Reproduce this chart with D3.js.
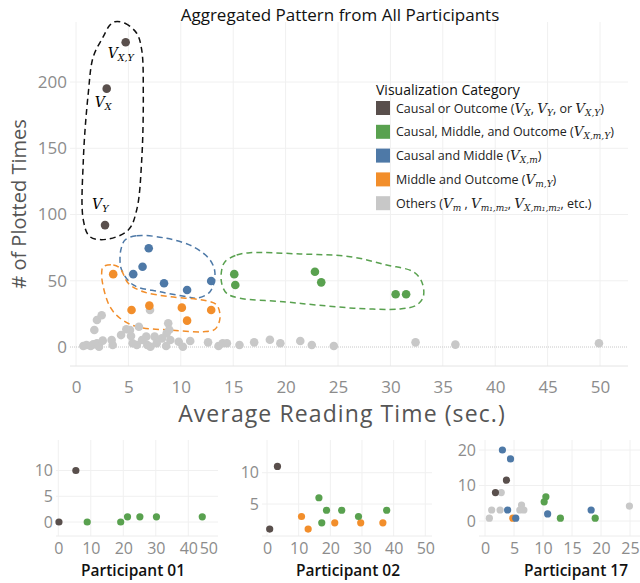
<!DOCTYPE html>
<html lang="en">
<head>
    <title>Aggregated Pattern</title>
    <script src="https://d3js.org/d3.v7.min.js"></script>
    <style>
        body { margin: 0; background: #fff; }
        text { font-family: "Open Sans", sans-serif; }
    </style>
</head>
<body>

<script>
    // ---- data ----
    const categories = ["Causal or Outcome", "Causal, Middle, and Outcome", "Causal and Middle",
                        "Middle and Outcome", "Others"];
    const legendLabels = ["Causal or Outcome ({X}, {Y}, or {X,Y})",
                          "Causal, Middle, and Outcome ({X,m,Y})",
                          "Causal and Middle ({X,m})",
                          "Middle and Outcome ({m,Y})",
                          "Others ({m} , {m₁,m₂}, {X,m₁,m₂}, etc.)"];
    const colors = ["#594f4c", "#59a14f", "#4e79a7", "#f28e2b", "#c8c8c8"];

    // main chart: [average reading time, # of plotted times]
    const causalPts = [[4.74, 230], [2.93, 195], [2.77, 92]];
    const causalNames = ["X,Y", "X", "Y"];
    const greenPts = [[15.1, 55], [15.2, 46.8], [22.8, 56.8], [23.4, 48.8], [30.5, 39.8], [31.5, 39.8]];
    const bluePts = [[5.46, 55], [6.35, 60.6], [6.94, 74.5], [8.4, 48.1], [10.6, 43], [12.9, 49.8]];
    const orangePts = [[3.55, 55], [5.3, 27.9], [7.0, 31.2], [10.1, 29.7], [10.6, 19.9], [12.9, 27.9]];
    const otherPts = [[0.7, 0.8], [1.0, 1.5], [1.4, 0.8], [1.65, 2], [2.0, 2.8], [2.2, 0.2], [2.55, 4.8],
        [1.75, 12.8], [2.0, 20.4], [2.45, 24], [3.4, 5.3], [3.5, 1.5], [4.3, 9], [4.8, 13.4], [5.15, 12.8],
        [5.25, 8.3], [5.4, 2.8], [5.8, 1.5], [6.0, 15.3], [6.3, 5.3], [6.7, 7.8], [6.8, 1.5], [7.1, 0.2],
        [7.06, 27.9], [7.5, 7.8], [7.7, 2.8], [8.2, 6.5], [8.65, 10.3], [8.8, 17.9], [9.0, 5.3], [8.6, 0.8],
        [8.9, 13], [9.8, 4], [10.2, 0.2], [10.9, 4.5], [12.6, 3.5], [13.6, 0.8], [14.0, 2.8], [14.4, 2.8],
        [15.6, 1.5], [17.0, 3.5], [18.5, 5.5], [19.5, 2.8], [21.4, 4.5], [22.5, 1.5], [24.6, 0.8],
        [32.4, 3.5], [36.2, 1.8], [49.9, 2.8]];

    // dashed outlines around groups (data units)
    const blackHull = [[3.72, 245.5], [4.68, 244.3], [5.79, 236.8], [6.27, 224.2], [6.42, 191.5], [6.27, 141.1],
        [5.79, 103.4], [4.99, 88.3], [2.93, 81.3], [1.34, 83.2], [0.70, 95.8], [0.70, 141.1], [1.17, 191.5],
        [1.65, 219.1], [2.60, 234.2], [3.24, 243]];
    const blueHull = [[4.68, 80.8], [5.79, 84], [8.65, 82], [11.19, 75.7], [12.79, 65.7], [13.26, 55.6],
        [12.79, 41.7], [11.52, 36.8], [10.56, 38], [8.02, 41.7], [5.47, 46.8], [4.36, 58.1], [4.20, 68.2],
        [4.36, 75.7]];
    const orangeHull = [[2.60, 60.6], [3.56, 61.9], [4.20, 59.4], [4.99, 48.1], [6.42, 41.7], [8.97, 38],
        [12.47, 34.9], [13.43, 31.7], [13.74, 21.9], [13.26, 13.4], [12.15, 11.5], [8.97, 12.8], [5.79, 15.3],
        [4.20, 21.7], [3.24, 30.4], [2.60, 45.5], [2.45, 55.6]];
    const greenHull = [[14.22, 64.4], [15.33, 69.4], [16.60, 71.2], [21.37, 70.2], [26.15, 68.2], [29.65, 61.9],
        [32.18, 56.8], [32.99, 49.3], [33.14, 38], [32.51, 31.7], [30.92, 28.7], [26.78, 29.2], [22.97, 31.7],
        [19.78, 34.2], [15.65, 36.8], [14.38, 40.5], [13.90, 48.1], [13.90, 58.1]];

    const mainXTicks = d3.range(0, 51, 5);
    const mainYTicks = [0, 50, 100, 150, 200];

    // participant panels: [x, y, category index]
    const p01 = [[0.2, 0, 0], [5.4, 10, 0], [8.9, 0, 1], [19.2, 0, 1], [21.3, 1, 1], [25.1, 1, 1],
        [30.2, 1, 1], [44.3, 1, 1]];
    const p02 = [[0.85, 1, 0], [3.3, 11, 0], [10.9, 3, 3], [13, 1, 3], [21.4, 2, 3], [29.6, 2, 3], [36.6, 2, 3],
        [16.4, 6, 1], [17.3, 2, 1], [18.8, 4, 1], [23.6, 4, 1], [28.9, 3, 1], [37.8, 4, 1]];
    const p17 = [[0.75, 0.8, 4], [1.15, 3.1, 4], [2.6, 3.1, 4], [2.8, 8, 4], [6.3, 4.5, 4], [6.0, 3.1, 4],
        [6.7, 3.1, 4], [24.9, 4.2, 4],
        [4.8, 0.8, 3], [10.5, 6.8, 1], [10.2, 5.4, 1], [13, 0.8, 1], [19, 0.8, 1],
        [3.0, 20, 2], [4.4, 17.5, 2], [3.9, 3.1, 2], [10.8, 2, 2], [18.3, 3.1, 2], [5.3, 0.8, 2],
        [3.7, 11.5, 0], [1.8, 8, 0]];
    const panelNames = ["Participant 01", "Participant 02", "Participant 17"];
    const p01XTicks = [0, 10, 20, 30, 40, 50], p01YTicks = [0, 5, 10];
    const p02XTicks = [0, 10, 20, 30, 40, 50], p02YTicks = [5, 10];
    const p17XTicks = [0, 5, 10, 15, 20, 25], p17YTicks = [0, 10, 20];

    // ---- drawing ----
    const svg = d3.select("body").append("svg").attr("width", 640).attr("height", 583);
    const gridColor = "#f0f0f0";
    const tickColor = "#8c8c8c";

    // writes "text ({X,Y})" with italic V and subscripts
    function mathText(sel, str, size) {
        const parts = str.split(/(\{[^}]*\})/);
        let shifted = false;
        parts.forEach(p => {
            if (!p) return;
            if (p[0] === "{") {
                sel.append("tspan").attr("dy", shifted ? -3 : null)
                    .style("font-family", "'DejaVu Serif', serif").style("font-style", "italic")
                    .style("font-size", (size + 1) + "px").text("V");
                sel.append("tspan").attr("dy", 3)
                    .style("font-family", "'DejaVu Serif', serif").style("font-style", "italic")
                    .style("font-size", (size - 3.5) + "px").text(p.slice(1, -1));
                shifted = true;
            } else {
                sel.append("tspan").attr("dy", shifted ? -3 : null).text(p);
                shifted = false;
            }
        });
    }

    // main chart
    const x = d3.scaleLinear().domain([0, 50]).range([76, 600]);
    const y = d3.scaleLinear().domain([0, 200]).range([347, 82]);
    const mLeft = 70, mRight = 628, mTop = 22, mBottom = 366;

    svg.append("g").selectAll("line").data(mainXTicks).join("line")
        .attr("x1", d => x(d)).attr("x2", d => x(d)).attr("y1", mTop).attr("y2", mBottom)
        .attr("stroke", gridColor);
    svg.append("g").selectAll("line").data(mainYTicks).join("line")
        .attr("x1", mLeft).attr("x2", mRight).attr("y1", d => y(d)).attr("y2", d => y(d))
        .attr("stroke", d => d === 0 ? "#c8c8c8" : gridColor)
        .attr("stroke-dasharray", d => d === 0 ? "1,1" : null);
    svg.append("line").attr("x1", mLeft).attr("x2", mRight).attr("y1", mBottom).attr("y2", mBottom)
        .attr("stroke", "#e4e4e4");

    const xAxis = svg.append("g").attr("transform", `translate(0,${mBottom})`)
        .call(d3.axisBottom(x).tickValues(mainXTicks).tickSize(0).tickPadding(15));
    const yAxis = svg.append("g").attr("transform", `translate(${mLeft - 3},0)`)
        .call(d3.axisLeft(y).tickValues(mainYTicks).tickSize(0).tickPadding(0));
    [xAxis, yAxis].forEach(a => {
        a.select(".domain").remove();
        a.selectAll("text").style("font-size", "17px").style("fill", tickColor)
            .style("font-family", "'Open Sans', sans-serif");
    });

    svg.append("text").attr("x", 340).attr("y", 21).attr("text-anchor", "middle")
        .style("font-size", "17px").style("fill", "#111").text("Aggregated Pattern from All Participants");
    svg.append("text").attr("x", 342).attr("y", 422).attr("text-anchor", "middle")
        .style("font-size", "23px").style("letter-spacing", "1.1px").style("fill", "#555")
        .text("Average Reading Time (sec.)");
    svg.append("text").attr("transform", "translate(26,204) rotate(-90)").attr("text-anchor", "middle")
        .style("font-size", "20px").style("fill", "#555").text("# of Plotted Times");

    const hull = d3.line().x(d => x(d[0])).y(d => y(d[1])).curve(d3.curveCatmullRomClosed);
    [[blackHull, "#111"], [blueHull, colors[2]], [orangeHull, colors[3]], [greenHull, colors[1]]]
        .forEach(([pts, c]) => {
            svg.append("path").attr("d", hull(pts)).attr("fill", "none").attr("stroke", c)
                .attr("stroke-width", 1.5).attr("stroke-dasharray", "6,4");
        });

    const series = [[otherPts, colors[4]], [orangePts, colors[3]], [bluePts, colors[2]],
                    [greenPts, colors[1]], [causalPts, colors[0]]];
    series.forEach(([pts, c]) => {
        svg.append("g").selectAll("circle").data(pts).join("circle")
            .attr("cx", d => x(d[0])).attr("cy", d => y(d[1])).attr("r", 4.3).attr("fill", c);
    });

    // V labels next to the causal points
    const vOffsets = [[-18, 16], [-12, 18], [-13, -16]];
    causalPts.forEach((d, i) => {
        const t = svg.append("text").attr("x", x(d[0]) + vOffsets[i][0]).attr("y", y(d[1]) + vOffsets[i][1])
            .style("font-size", "13px");
        mathText(t, "{" + causalNames[i] + "}", 13);
    });

    // legend
    const legend = svg.append("g").attr("transform", "translate(376,0)");
    legend.append("text").attr("x", 0).attr("y", 95).style("font-size", "14px").style("fill", "#111")
        .text("Visualization Category");
    categories.forEach((c, i) => {
        const cy = 108 + i * 23.8;
        legend.append("rect").attr("x", 0).attr("y", cy - 7).attr("width", 14).attr("height", 14)
            .attr("fill", colors[i]);
        const t = legend.append("text").attr("x", 20).attr("y", cy + 4.5)
            .style("font-size", "12.5px").style("fill", "#222");
        mathText(t, legendLabels[i], 12.5);
    });

    // participant panels
    const panels = [
        {pts: p01, xt: p01XTicks, yt: p01YTicks, xr: [58.3, 188.3], xd: [0, 40], yr: [522, 470.5], yd: [0, 10],
         left: 56, right: 218, cx: 133},
        {pts: p02, xt: p02XTicks, yt: p02YTicks, xr: [267, 425.3], xd: [0, 50], yr: [535.3, 472.7], yd: [0, 10],
         left: 262, right: 432, cx: 348},
        {pts: p17, xt: p17XTicks, yt: p17YTicks, xr: [485, 630], xd: [0, 25], yr: [521, 450], yd: [0, 20],
         left: 479, right: 640, cx: 576}
    ];
    panels.forEach((p, k) => {
        const px = d3.scaleLinear().domain(p.xd).range(p.xr);
        const py = d3.scaleLinear().domain(p.yd).range(p.yr);
        const g = svg.append("g");
        g.selectAll(".vg").data(p.xt).join("line").attr("class", "vg")
            .attr("x1", d => px(d)).attr("x2", d => px(d)).attr("y1", 440).attr("y2", 536)
            .attr("stroke", gridColor).attr("display", d => px(d) > p.right ? "none" : null);
        g.selectAll(".hg").data(p.yt).join("line").attr("class", "hg")
            .attr("x1", p.left).attr("x2", p.right).attr("y1", d => py(d)).attr("y2", d => py(d))
            .attr("stroke", gridColor);
        g.append("line").attr("x1", p.left).attr("x2", p.right).attr("y1", 536).attr("y2", 536)
            .attr("stroke", "#ececec");
        const ax = g.append("g").attr("transform", "translate(0,536)")
            .call(d3.axisBottom(px).tickValues(p.xt).tickSize(0).tickPadding(7));
        const ay = g.append("g").attr("transform", `translate(${p.left - 3},0)`)
            .call(d3.axisLeft(py).tickValues(p.yt).tickSize(0).tickPadding(0));
        [ax, ay].forEach(a => {
            a.select(".domain").remove();
            a.selectAll("text").style("font-size", "16px").style("fill", tickColor)
                .style("font-family", "'Open Sans', sans-serif");
        });
        // a last label that falls past the pane edge is pulled inside
        ax.selectAll(".tick").filter(d => px(d) > p.right)
            .attr("transform", `translate(${p.right},0)`).select("text").attr("text-anchor", "end");

        g.selectAll("circle").data(p.pts.slice().sort((a, b) => b[2] - a[2])).join("circle")
            .attr("cx", d => px(d[0])).attr("cy", d => py(d[1])).attr("r", 3.6).attr("fill", d => colors[d[2]]);
        g.append("text").attr("x", p.cx).attr("y", 576).attr("text-anchor", "middle")
            .style("font-size", "15.5px").style("font-weight", 600).style("fill", "#111").text(panelNames[k]);
    });
</script>

</body>
</html>
